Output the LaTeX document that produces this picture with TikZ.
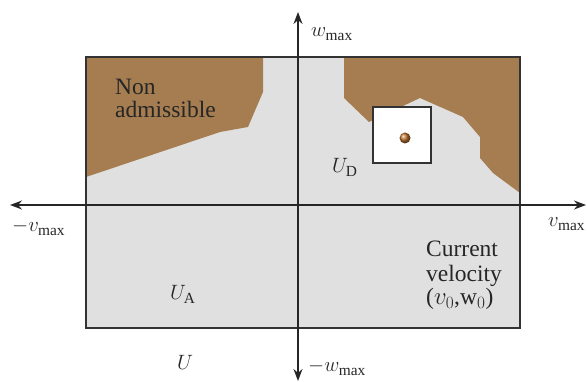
\documentclass[tikz,border=0pt]{standalone}
\usepackage{fontspec}
\setmainfont{Liberation Serif}
\newfontfamily\tmsfont{Liberation Serif}
\usetikzlibrary{arrows.meta}
\definecolor{brownfill}{HTML}{A67D51}
\definecolor{greyfill}{HTML}{E0E0E0}
\definecolor{dotcol}{HTML}{B8702A}
\begin{document}
\begin{tikzpicture}[x=1pt,y=-1pt,
  lbl/.style={font=\tmsfont\fontsize{22}{25}\selectfont, inner sep=0pt, text=black!85},
  txt/.style={font=\tmsfont\fontsize{23.5}{26}\selectfont, inner sep=0pt, text=black!85},
  axisline/.style={line width=1.6pt, draw=black!85, -{Stealth[length=12pt,width=9pt]}},
  frame/.style={line width=1.3pt, draw=black!80}]
\useasboundingbox (0,0) rectangle (587,382);
\coordinate (O) at (298,205);
\coordinate (L) at (10,205);
\coordinate (R) at (586,205);
\coordinate (T) at (298,12);
\coordinate (B) at (298,381);
% admissible set
\fill[greyfill] (86,57) rectangle (520,328);
% non admissible regions
\fill[brownfill] (86,57) -- (263,57) -- (263,92) -- (248,127) -- (220,132) -- (86,177) -- cycle;
\fill[brownfill] (344,57) -- (520,57) -- (520,193) -- (493,173) -- (480,158) -- (480,137)
  -- (463,117) -- (420,98) -- (369,122) -- (344,98) -- cycle;
% frame
\draw[frame] (86,57) rectangle (520,328);
% dynamic window
\draw[fill=white, line width=1.1pt, draw=black!80] (373,107) rectangle (431,163);
\shade[ball color=dotcol] (405,138) circle (5.5);
% axes
\draw[axisline] (O) -- (L);
\draw[axisline] (O) -- (R);
\draw[axisline] (O) -- (T);
\draw[axisline] (O) -- (B);
% labels
\node[txt, anchor=base west] (non) at (115,95) {Non};
\node[txt, anchor=base west] (adm) at (115,118) {admissible};
\node[lbl, anchor=base west] (ud) at (332,173) {$U_{\mathrm{D}}$};
\node[lbl, anchor=base west] (ua) at (170,300) {$U_{\mathrm{A}}$};
\node[lbl, anchor=base west] (u) at (177,370) {$U$};
\node[txt, anchor=base west] (cur) at (426,257) {Current};
\node[txt, anchor=base west] (vel) at (426,282) {velocity};
\node[txt, anchor=base west] (v0) at (426,305) {($v_0$,w$_0$)};
\node[lbl, anchor=base west] (wmax) at (311,37) {$w_{\max}$};
\node[lbl, anchor=base west] (mwmax) at (308,372) {$-w_{\max}$};
\node[lbl, anchor=base west] (mvmax) at (12,232) {$-v_{\max}$};
\node[lbl, anchor=base west] (vmax) at (548,227) {$v_{\max}$};
\end{tikzpicture}
\end{document}
